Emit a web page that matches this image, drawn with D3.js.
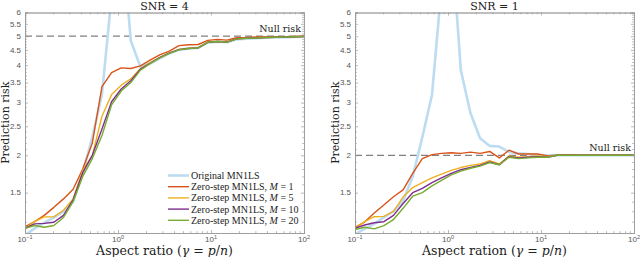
<!DOCTYPE html>
<html><head><meta charset="utf-8">
<script src="https://cdn.jsdelivr.net/npm/d3@7"></script>
<style>body{margin:0;background:#fff}svg{display:block}</style>
</head><body><svg id="c" width="640" height="257"></svg>
<script>
const gamma = [0.1,0.1269,0.1610,0.2043,0.2593,0.3290,0.4175,0.5298,0.6723,0.8532,1.0826,1.3738,1.7433,2.2122,2.8072,3.5622,4.5204,5.7362,7.2790,9.2367,11.721,14.874,18.874,23.950,30.392,38.566,48.939,62.102,78.805,100];

// SNR = 4
const orig4 = [1.08,1.14,1.19,1.24,1.3,1.4,1.75,2.3,3.2,6.8,11.5,4.83,3.95,4.05,4.22,4.38,4.5,4.55,4.57,4.76,4.79,4.77,4.88,4.9,4.92,4.94,4.95,4.96,4.97,4.98];
const m1_4  = [1.154,1.2,1.26,1.34,1.43,1.54,1.8,2.2,3.39,3.78,3.92,3.9,3.98,4.16,4.33,4.46,4.65,4.68,4.69,4.84,4.88,4.85,4.94,4.95,4.97,4.97,4.98,4.98,4.99,5.0];
const m5_4  = [1.14,1.2,1.245,1.245,1.31,1.43,1.78,2.0,2.7,3.19,3.43,3.6,3.9,4.08,4.25,4.4,4.52,4.56,4.58,4.78,4.8,4.78,4.9,4.92,4.93,4.95,4.96,4.97,4.98,4.99];
const m10_4 = [1.14,1.18,1.185,1.195,1.26,1.42,1.75,2.0,2.45,3.02,3.33,3.55,3.88,4.06,4.24,4.39,4.51,4.55,4.57,4.77,4.8,4.78,4.9,4.92,4.93,4.95,4.96,4.97,4.98,4.99];
const m20_4 = [1.14,1.165,1.15,1.165,1.24,1.4,1.7,1.95,2.33,2.95,3.28,3.5,3.85,4.05,4.23,4.38,4.5,4.55,4.57,4.77,4.8,4.78,4.9,4.92,4.93,4.95,4.96,4.97,4.98,4.99];

// SNR = 1
const orig1 = [1.09,1.135,1.18,1.24,1.3,1.41,1.7,2.3,3.18,7.35,10.9,3.85,2.77,2.28,2.15,2.14,2.05,2.03,2.02,2.0,2.0,2.0,2.0,2.0,2.0,2.0,2.0,2.0,2.0,2.0];
const m1_1  = [1.149,1.197,1.283,1.364,1.454,1.532,1.74,1.95,2.01,2.03,2.04,2.03,2.05,2.03,2.06,1.96,2.08,2.02,2.02,2.02,1.99,2.0,2.01,2.0,2.0,2.0,2.0,2.0,2.0,2.0];
const m5_1  = [1.14,1.2,1.247,1.25,1.3,1.45,1.56,1.62,1.68,1.73,1.78,1.82,1.85,1.87,1.92,1.87,1.99,1.97,1.98,1.99,1.98,2.0,2.0,2.0,2.0,2.0,2.0,2.0,2.0,2.0];
const m10_1 = [1.14,1.17,1.19,1.2,1.26,1.38,1.5,1.55,1.62,1.68,1.74,1.79,1.82,1.85,1.9,1.86,1.98,1.96,1.97,1.98,1.97,2.0,2.0,2.0,2.0,2.0,2.0,2.0,2.0,2.0];
const m20_1 = [1.13,1.15,1.135,1.165,1.22,1.33,1.46,1.5,1.58,1.65,1.72,1.77,1.81,1.84,1.89,1.86,1.97,1.95,1.96,1.97,1.97,2.0,2.0,2.0,2.0,2.0,2.0,2.0,2.0,2.0];

const seriesNames = ["Original MN1LS","Zero-step MN1LS, M = 1","Zero-step MN1LS, M = 5","Zero-step MN1LS, M = 10","Zero-step MN1LS, M = 20"];
const mValues = [null,"1","5","10","20"];
const colors = ["#bcdcf1","#d95319","#edb120","#7e2f8e","#77ac30"];
const widths = [2.6,1.4,1.4,1.4,1.4];
const yTicks = [1.5,2,2.5,3,3.5,4,4.5,5,5.5,6];
const xTickExps = [-1,0,1,2];
const panels = [
  {title:"SNR = 4", xlabel:"Aspect ratio", nullRisk:5, series:[orig4,m1_4,m5_4,m10_4,m20_4], left:25, legend:true},
  {title:"SNR = 1", xlabel:"Aspect ration", nullRisk:2, series:[orig1,m1_1,m5_1,m10_1,m20_1], left:355, legend:false}
];

const svg = d3.select("#c");
const serif = "'Liberation Serif','DejaVu Serif',serif";
const wideSerif = "'DejaVu Serif','Liberation Serif',serif";
const sans = "'Liberation Sans','DejaVu Sans',sans-serif";
const plotTop = 12.5, plotBottom = 233, pw = 279;
const axisCol = "#9a9a9a";

panels.forEach((p, pi) => {
  const x = d3.scaleLog().domain([0.1,100]).range([p.left, p.left+pw]);
  const y = d3.scaleLog().domain([1.1,6]).range([plotBottom, plotTop]);
  const g = svg.append("g");
  const cid = "clip"+pi;
  svg.append("clipPath").attr("id",cid).append("rect")
    .attr("x",p.left).attr("y",plotTop).attr("width",pw).attr("height",plotBottom-plotTop);

  g.append("line").attr("x1",p.left).attr("x2",p.left+pw)
    .attr("y1",y(p.nullRisk)).attr("y2",y(p.nullRisk))
    .attr("stroke","#808080").attr("stroke-width",1.3).attr("stroke-dasharray","7,4");

  const lg = g.append("g").attr("clip-path",`url(#${cid})`);
  p.series.forEach((s,si) => {
    const line = d3.line().x((d,i)=>x(gamma[i])).y(d=>y(d));
    lg.append("path").datum(s).attr("d",line).attr("fill","none")
      .attr("stroke",colors[si]).attr("stroke-width",widths[si]).attr("stroke-linejoin","round");
  });

  const minorX = [];
  for (let e=-1;e<2;e++) for (let k=2;k<=9;k++) minorX.push(k*Math.pow(10,e));
  const minorY = [];
  for (let v=12; v<60; v++) { const val=v/10; if (Math.abs(val*2-Math.round(val*2))>1e-6) minorY.push(val); }
  const majX = xTickExps.map(e=>Math.pow(10,e));
  const axes = [
    [d3.axisBottom(x).tickValues(majX).tickSize(-3),`translate(0,${plotBottom})`],
    [d3.axisBottom(x).tickValues(minorX).tickSize(-1.8),`translate(0,${plotBottom})`],
    [d3.axisTop(x).tickValues(majX).tickSize(-3),`translate(0,${plotTop})`],
    [d3.axisTop(x).tickValues(minorX).tickSize(-1.8),`translate(0,${plotTop})`],
    [d3.axisLeft(y).tickValues(yTicks).tickSize(-3),`translate(${p.left},0)`],
    [d3.axisLeft(y).tickValues(minorY).tickSize(-1.8),`translate(${p.left},0)`],
    [d3.axisRight(y).tickValues(yTicks).tickSize(-3),`translate(${p.left+pw},0)`],
    [d3.axisRight(y).tickValues(minorY).tickSize(-1.8),`translate(${p.left+pw},0)`]
  ];
  axes.forEach(([a,t]) => {
    a.tickFormat("");
    const ag = g.append("g").attr("transform",t).call(a);
    ag.select(".domain").attr("stroke",axisCol).attr("stroke-width",0.8);
    ag.selectAll(".tick line").attr("stroke",axisCol).attr("stroke-width",0.7);
  });

  g.selectAll(".ylab").data(yTicks).enter().append("text")
    .attr("x",p.left-4).attr("y",d=>y(d)+2.8).attr("text-anchor","end")
    .attr("font-family",sans).attr("font-size",8).attr("fill","#555").text(d=>d);
  xTickExps.forEach(e => {
    const t = g.append("text").attr("x",x(Math.pow(10,e))).attr("y",242).attr("text-anchor","middle")
      .attr("font-family",sans).attr("font-size",8).attr("fill","#555");
    t.append("tspan").text("10");
    t.append("tspan").attr("dy",-3.5).attr("font-size",5.5).text(String(e).replace("-","\u2212"));
  });

  g.append("text").attr("x",p.left+pw/2).attr("y",10).attr("text-anchor","middle")
    .attr("font-family",wideSerif).attr("font-size",11).attr("fill","#222").text(p.title);
  const xl = g.append("text").attr("x",p.left+pw/2).attr("y",254.5).attr("text-anchor","middle")
    .attr("font-family",wideSerif).attr("font-size",12.5).attr("fill","#222");
  xl.append("tspan").text(p.xlabel+" (");
  xl.append("tspan").attr("font-style","italic").text("γ");
  xl.append("tspan").text(" = ");
  xl.append("tspan").attr("font-style","italic").text("p");
  xl.append("tspan").text("/");
  xl.append("tspan").attr("font-style","italic").text("n");
  xl.append("tspan").text(")");
  g.append("text").attr("transform",`translate(${p.left-16},${(plotTop+plotBottom)/2}) rotate(-90)`)
    .attr("text-anchor","middle").attr("font-family",wideSerif).attr("font-size",11).attr("fill","#222")
    .text("Prediction risk");
  g.append("text").attr("x",p.left+pw-3).attr("y",y(p.nullRisk)-4).attr("text-anchor","end")
    .attr("font-family",wideSerif).attr("font-size",9.5).attr("fill","#222").text("Null risk");

  if (p.legend) {
    const lgd = g.append("g");
    seriesNames.forEach((n,i) => {
      const yy = 175.5 + i*11.2;
      lgd.append("line").attr("x1",168).attr("x2",189).attr("y1",yy).attr("y2",yy)
        .attr("stroke",colors[i]).attr("stroke-width",widths[i]);
      const t = lgd.append("text").attr("x",191).attr("y",yy+3.5).attr("font-family",serif)
        .attr("font-size",10).attr("fill","#222");
      if (mValues[i] === null) t.text(n);
      else {
        t.append("tspan").text("Zero-step MN1LS, ");
        t.append("tspan").attr("font-style","italic").text("M");
        t.append("tspan").text(" = "+mValues[i]);
      }
    });
  }
});
</script></body></html>
